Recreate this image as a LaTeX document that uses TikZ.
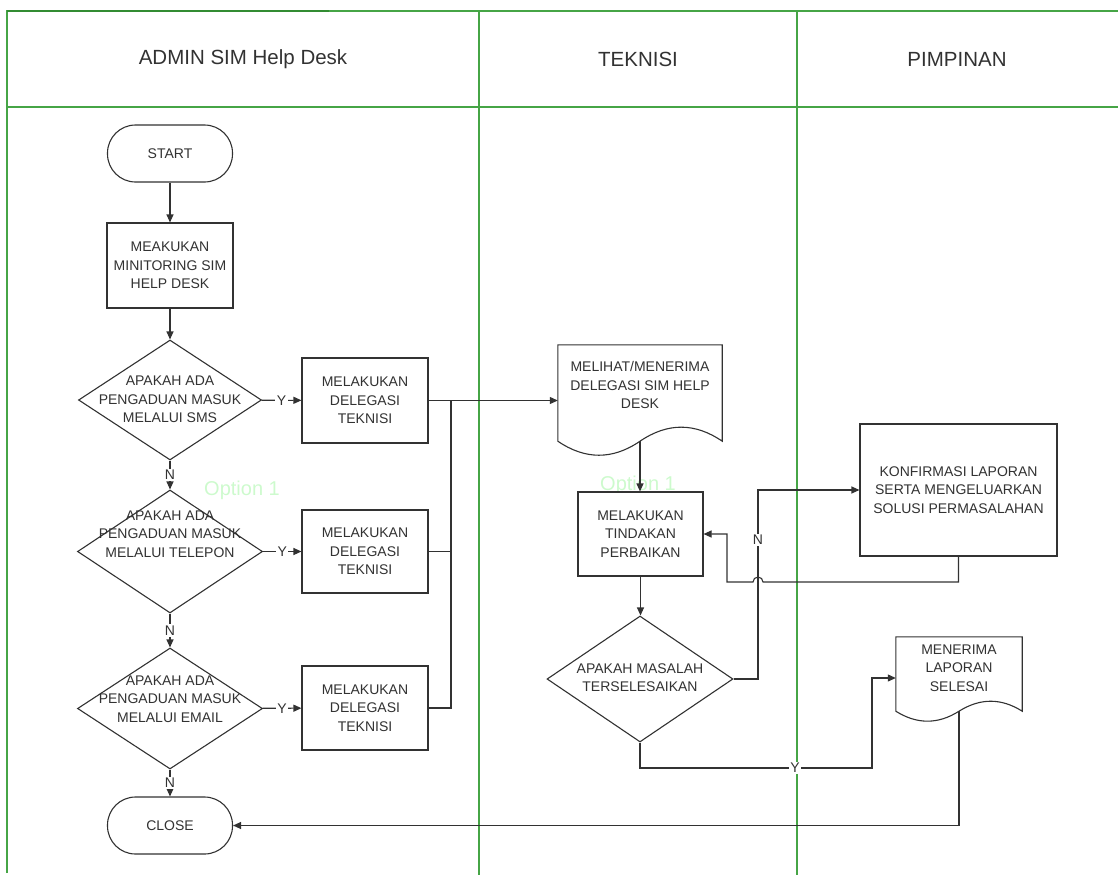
\documentclass[tikz,border=0pt]{standalone}
\usepackage{fontspec}
\setmainfont{Liberation Sans}
\usetikzlibrary{arrows.meta,shapes.geometric,calc}
\definecolor{lane}{RGB}{70,165,70}
\definecolor{lanedark}{RGB}{50,140,50}
\definecolor{ink}{RGB}{50,50,50}
\definecolor{opt}{RGB}{205,250,205}
\begin{document}
\begin{tikzpicture}[x=1pt,y=-1pt,
  txt/.style={font=\fontsize{14}{18.3}\selectfont, text=ink, align=center, inner sep=0pt},
  head/.style={font=\fontsize{20.5}{24}\selectfont, text=ink},
  optl/.style={font=\fontsize{20}{24}\selectfont, text=opt},
  lanel/.style={draw=lane, line width=1.2pt},
  proc/.style={txt, draw=ink, fill=white, line width=1.1pt, rectangle},
  term/.style={proc, rounded corners=28pt},
  dec/.style={draw=ink, fill=white, line width=1.1pt, diamond, inner sep=0pt},
  docn/.style={rectangle, inner sep=0pt},
  docshape/.style={draw=ink, fill=white, line width=1.1pt},
  line/.style={draw=ink, line width=1.1pt},
  conn/.style={line, -{Triangle[length=8pt,width=7pt]}},
  lbl/.style={txt, fill=white, inner sep=1.5pt}
]
\useasboundingbox (0,0) rectangle (1118,875);

% swimlanes
\draw[lanel] (7,873) -- (7,11) -- (1118,11);
\draw[draw=lanedark, line width=1.2pt] (7,11) -- (329,11);
\draw[lanel] (7,107) -- (1118,107);
\draw[lanel] (479,11) -- (479,875);
\draw[lanel] (797,11) -- (797,875);
\node[head] (h1) at (243,59) {ADMIN SIM Help Desk};
\node[head] (h2) at (638,59) {TEKNISI};
\node[head] (h3) at (957,59) {PIMPINAN};

% faint option labels
\node[optl] (o1) at (242,490) {Option 1};
\node[optl] (o2) at (638,485) {Option 1};

% admin lane
\node[term, minimum width=125, minimum height=57] (start) at (170,153.5) {START};
\node[proc, minimum width=126, minimum height=85] (mon) at (170,265.5) {MEAKUKAN\\MINITORING SIM\\HELP DESK};

\node[dec, minimum width=183, minimum height=120] (d1) at (170,400) {};
\node[txt] (d1t) at (170,399.5) {APAKAH ADA\\PENGADUAN MASUK\\MELALUI SMS};
\node[dec, minimum width=185, minimum height=123] (d2) at (170,551.5) {};
\node[txt] (d2t) at (170,534) {APAKAH ADA\\PENGADUAN MASUK\\MELALUI TELEPON};
\node[dec, minimum width=185, minimum height=121] (d3) at (170,708.5) {};
\node[txt] (d3t) at (170,699) {APAKAH ADA\\PENGADUAN MASUK\\MELALUI EMAIL};

\node[proc, minimum width=126, minimum height=85] (p1) at (365,400.5) {MELAKUKAN\\DELEGASI\\TEKNISI};
\node[proc, minimum width=126, minimum height=83] (p2) at (365,551.5) {MELAKUKAN\\DELEGASI\\TEKNISI};
\node[proc, minimum width=126, minimum height=84] (p3) at (365,708) {MELAKUKAN\\DELEGASI\\TEKNISI};

\node[term, minimum width=125, minimum height=57] (close) at (170,825.5) {CLOSE};

% teknisi lane
\node[docn, minimum width=164, minimum height=96] (m1) at (640,393) {};
\draw[docshape] (m1.south west) -- (m1.north west) -- (m1.north east) -- (m1.south east)
  .. controls ($(m1.south east)+(-27.3,-18.7)$) and ($(m1.south east)+(-54.7,-18.7)$) .. (m1.south)
  .. controls ($(m1.south)+(-27.3,18.7)$) and ($(m1.south)+(-54.7,18.7)$) .. (m1.south west) -- cycle;
\node[txt] (m1t) at (640,385) {MELIHAT/MENERIMA\\DELEGASI SIM HELP\\DESK};

\node[proc, minimum width=125, minimum height=84] (t1) at (640.5,534) {MELAKUKAN\\TINDAKAN\\PERBAIKAN};
\node[dec, minimum width=186, minimum height=126] (d4) at (640,679) {};
\node[txt] (d4t) at (640,677.5) {APAKAH MASALAH\\TERSELESAIKAN};

% pimpinan lane
\node[proc, minimum width=197, minimum height=132] (konf) at (958.5,490) {KONFIRMASI LAPORAN\\SERTA MENGELUARKAN\\SOLUSI PERMASALAHAN};

\node[docn, minimum width=126, minimum height=74] (m2) at (959,674) {};
\draw[docshape] (m2.south west) -- (m2.north west) -- (m2.north east) -- (m2.south east)
  .. controls ($(m2.south east)+(-21,-13.3)$) and ($(m2.south east)+(-42,-13.3)$) .. (m2.south)
  .. controls ($(m2.south)+(-21,13.3)$) and ($(m2.south)+(-42,13.3)$) .. (m2.south west) -- cycle;
\node[txt] (m2t) at (959,668) {MENERIMA\\LAPORAN\\SELESAI};

% connectors
\coordinate (j) at (451,400.5);
\coordinate (nx) at (758,679);
\coordinate (yin) at (872,678);

\draw[conn] (start) -- (mon);
\draw[conn] (mon) -- (d1);
\draw[conn] (d1) -- node[lbl] {Y} (p1);
\draw[conn] (d1) -- node[lbl] {N} (d2);
\draw[conn] (d2) -- node[lbl] {Y} (p2);
\draw[conn] (d2) -- node[lbl] {N} (d3);
\draw[conn] (d3) -- node[lbl] {Y} (p3);
\draw[conn] (d3) -- node[lbl] {N} (close);

\draw[conn] (p1.east) -- (p1.east -| m1.west);
\draw[line] (p2.east) -| (j);
\draw[line] (p3.east) -| (j);

\draw[conn] (m1.south) -- (m1.south |- t1.north);
\draw[conn] (t1.south) -- (t1.south |- d4.north);

\draw[conn] (d4.east) -- (nx) -- node[lbl, pos=0.735] {N} (nx |- konf.west) -- (konf.west);
\draw[conn] (konf.south) -- (958.5,582) -- (763,582) arc[start angle=0, end angle=180, radius=5pt]
  -- (727,582) -- (727,534) -- (t1.east);
\draw[conn] (d4.south) -- (640,768) -- node[lbl, pos=0.668] {Y} (872,768) -- (yin) -- (yin -| m2.west);
\draw[conn] (m2.south) |- (close.east);
\end{tikzpicture}
\end{document}
